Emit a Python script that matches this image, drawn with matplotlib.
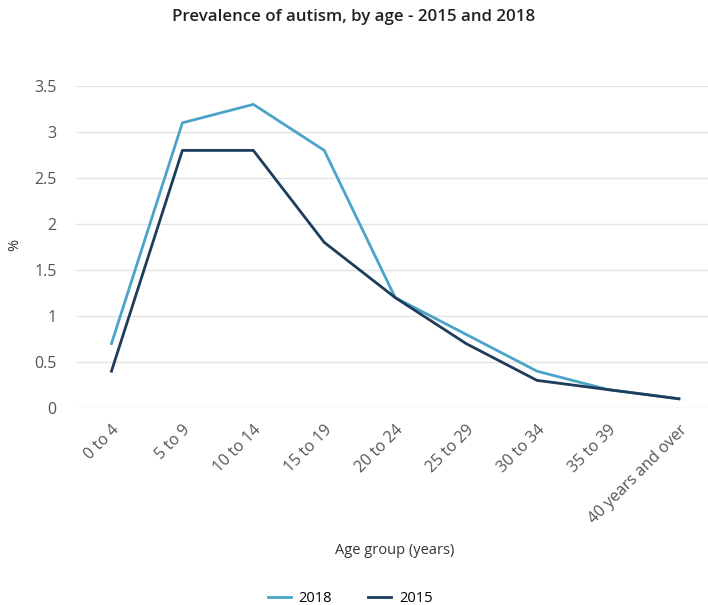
import matplotlib.pyplot as plt
from matplotlib.lines import Line2D

# 数据
age_groups = ['0 to 4', '5 to 9', '10 to 14', '15 to 19', '20 to 24',
              '25 to 29', '30 to 34', '35 to 39', '40 years and over']
prev_2018 = [0.7, 3.1, 3.3, 2.8, 1.2, 0.8, 0.4, 0.2, 0.1]
prev_2015 = [0.4, 2.8, 2.8, 1.8, 1.2, 0.7, 0.3, 0.2, 0.1]
y_ticks = [0, 0.5, 1, 1.5, 2, 2.5, 3, 3.5]
y_tick_labels = ['0', '0.5', '1', '1.5', '2', '2.5', '3', '3.5']

c2018 = '#4ba3c9'
c2015 = '#1e3d5a'

plt.rcParams['font.family'] = ['Open Sans', 'DejaVu Sans']

fig = plt.figure(figsize=(7.08, 6.05), dpi=100)
ax = fig.add_axes([76 / 708, 1 - 408 / 605, 1 - 76 / 708, (408 - 86) / 605])

x = list(range(len(age_groups)))
ax.plot(x, prev_2018, color=c2018, lw=2, label='2018')
ax.plot(x, prev_2015, color=c2015, lw=2, label='2015')

ax.set_xlim(-0.5, 8.41)
ax.set_ylim(0, 3.5)
ax.set_yticks(y_ticks)
ax.set_yticklabels(y_tick_labels)
ax.set_xticks(x)
ax.set_xticklabels(age_groups, rotation=45, ha='right', rotation_mode='anchor')
ax.tick_params(length=0, labelsize=11.5, labelcolor='#555555')
ax.tick_params(axis='y', pad=14)
ax.tick_params(axis='x', pad=10)
ax.grid(axis='y', color='#e3e3e3', lw=1)
ax.set_axisbelow(True)
for s in ax.spines.values():
    s.set_visible(False)

fig.text(0.5, 1 - 17 / 605, 'Prevalence of autism, by age - 2015 and 2018',
         ha='center', va='center', fontsize=12.2, fontweight='semibold', color='#222222')
fig.text(15 / 708, 1 - 245 / 605, '%', rotation=90, ha='center', va='center',
         fontsize=10.5, color='#333333')
fig.text(395 / 708, 1 - 551 / 605, 'Age group (years)', ha='center', va='center',
         fontsize=10.5, color='#333333')

handles = [Line2D([], [], color=c2018, lw=2), Line2D([], [], color=c2015, lw=2)]
fig.legend(handles, ['2018', '2015'], loc='center', bbox_to_anchor=(350 / 708, 1 - 599 / 605),
           ncol=2, frameon=False, fontsize=10.5, handlelength=1.6, columnspacing=2.5,
           handletextpad=0.5)

plt.savefig('out.png', dpi=100)
